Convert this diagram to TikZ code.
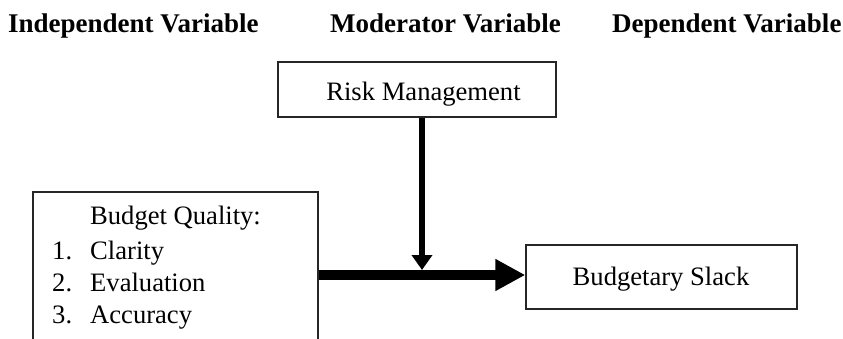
\documentclass[tikz,border=0pt]{standalone}
\usepackage{fontspec}
\setmainfont{Liberation Serif}
\usetikzlibrary{arrows.meta}
\begin{document}
\begin{tikzpicture}[x=1pt,y=-1pt,
  box/.style={draw=black!85,line width=1.4pt,inner sep=0pt},
  txt/.style={anchor=base west,inner sep=0pt,font=\fontsize{26.6}{30}\selectfont},
  head/.style={anchor=base west,inner sep=0pt,font=\fontsize{27}{30}\selectfont\bfseries}]
\clip (0,0) rectangle (843,339);
\fill[white] (0,0) rectangle (843,339);
% headings
\node[head] (h1) at (8,33) {Independent Variable};
\node[head] (h2) at (330,33) {Moderator Variable};
\node[head] (h3) at (612,33) {Dependent Variable};
% boxes
\node[box,minimum width=278pt,minimum height=55pt] (rm) at (417,89.5) {};
\node[txt,anchor=base] (rmt) at (423.5,101) {Risk Management};
\node[box,minimum width=285pt,minimum height=180pt] (bq) at (175.5,282) {};
\node[txt] (bqt) at (90,225) {Budget Quality:};
\node[txt] (n1) at (52,259) {1.};
\node[txt] (c1) at (90,259) {Clarity};
\node[txt] (n2) at (52,291) {2.};
\node[txt] (c2) at (90,291) {Evaluation};
\node[txt] (n3) at (52,323) {3.};
\node[txt] (c3) at (90,323) {Accuracy};
\node[box,minimum width=271pt,minimum height=64pt] (bs) at (661.5,277) {};
\node[txt,anchor=base] (bst) at (661,285) {Budgetary Slack};
% connectors
\coordinate (hl) at (318,275);
\draw[line width=10pt,-{Triangle[length=30pt,width=30pt]}] (bq.east |- hl) -- (bs.west |- hl);
\coordinate (vt) at (422,270);
\draw[line width=6pt,-{Triangle[length=15pt,width=20pt]}] (rm.south -| vt) -- (vt);
\end{tikzpicture}
\end{document}
